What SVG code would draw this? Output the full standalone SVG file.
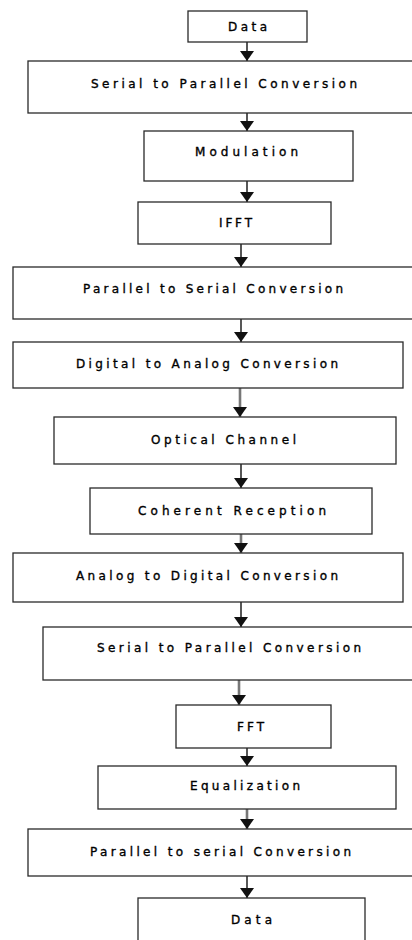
<svg xmlns="http://www.w3.org/2000/svg" width="412" height="940" viewBox="0 0 412 940">
<style>
.box{fill:#fff;stroke:#2a2a2a;stroke-width:1.3}
.lbl{font-family:"DejaVu Sans","Liberation Sans",sans-serif;font-size:12px;fill:#000;stroke:#000;stroke-width:0.35;text-anchor:middle}
.c{stroke:#111;stroke-width:1.4;fill:none;marker-end:url(#ah)}
.g{stroke:#777;stroke-width:2.6;fill:none;marker-end:url(#ah)}
</style>
<defs>
<marker id="ah" markerUnits="userSpaceOnUse" markerWidth="10" markerHeight="14" viewBox="0 0 10 14" refX="10" refY="7" orient="auto">
<path d="M0,0 L10,7 L0,14 z" fill="#111"/>
</marker>
</defs>
<rect width="412" height="940" fill="#fff"/>
<g id="connectors">
<line class="c" x1="247" y1="42" x2="247" y2="61"/>
<line class="c" x1="247" y1="113" x2="247" y2="131"/>
<line class="c" x1="247" y1="181" x2="247" y2="202"/>
<line class="c" x1="241" y1="244" x2="241" y2="267"/>
<line class="c" x1="241" y1="319" x2="241" y2="342"/>
<line class="g" x1="240" y1="388" x2="240" y2="417"/>
<line class="c" x1="241" y1="464" x2="241" y2="488"/>
<line class="g" x1="241" y1="534" x2="241" y2="553"/>
<line class="c" x1="241" y1="602" x2="241" y2="627"/>
<line class="g" x1="239" y1="680" x2="239" y2="705"/>
<line class="c" x1="247" y1="748" x2="247" y2="766"/>
<line class="g" x1="247" y1="809" x2="247" y2="829"/>
<line class="c" x1="247" y1="876" x2="247" y2="898"/>
</g>
<g id="data-in"><rect class="box" x="188" y="11" width="119" height="31"/><text class="lbl" x="247.5" y="30.5" textLength="39" lengthAdjust="spacing">Data</text></g>
<g id="s2p-1"><rect class="box" x="28" y="61" width="392" height="52"/><text class="lbl" x="224" y="87.5" textLength="266" lengthAdjust="spacing">Serial to Parallel Conversion</text></g>
<g id="modulation"><rect class="box" x="144" y="131" width="209" height="50"/><text class="lbl" x="246.5" y="155.5" textLength="103" lengthAdjust="spacing">Modulation</text></g>
<g id="ifft"><rect class="box" x="138" y="202" width="193" height="42"/><text class="lbl" x="235.5" y="226.5" textLength="33" lengthAdjust="spacing">IFFT</text></g>
<g id="p2s-1"><rect class="box" x="13" y="267" width="407" height="52"/><text class="lbl" x="213" y="292.5" textLength="260" lengthAdjust="spacing">Parallel to Serial Conversion</text></g>
<g id="dac"><rect class="box" x="13" y="342" width="390" height="46"/><text class="lbl" x="207" y="367.5" textLength="262" lengthAdjust="spacing">Digital to Analog Conversion</text></g>
<g id="optical"><rect class="box" x="54" y="417" width="342" height="47"/><text class="lbl" x="223.5" y="443.5" textLength="145" lengthAdjust="spacing">Optical Channel</text></g>
<g id="coherent"><rect class="box" x="90" y="488" width="282" height="46"/><text class="lbl" x="232" y="514.5" textLength="188" lengthAdjust="spacing">Coherent Reception</text></g>
<g id="adc"><rect class="box" x="13" y="553" width="390" height="49"/><text class="lbl" x="207" y="579.5" textLength="262" lengthAdjust="spacing">Analog to Digital Conversion</text></g>
<g id="s2p-2"><rect class="box" x="43" y="627" width="377" height="53"/><text class="lbl" x="229" y="651.5" textLength="264" lengthAdjust="spacing">Serial to Parallel Conversion</text></g>
<g id="fft"><rect class="box" x="176" y="705" width="155" height="43"/><text class="lbl" x="250.5" y="730.5" textLength="27" lengthAdjust="spacing">FFT</text></g>
<g id="equalization"><rect class="box" x="98" y="766" width="298" height="43"/><text class="lbl" x="245" y="789.5" textLength="110" lengthAdjust="spacing">Equalization</text></g>
<g id="p2s-2"><rect class="box" x="28" y="829" width="392" height="47"/><text class="lbl" x="220.5" y="855.5" textLength="261" lengthAdjust="spacing">Parallel to serial Conversion</text></g>
<g id="data-out"><rect class="box" x="138" y="898" width="227" height="52"/><text class="lbl" x="251.5" y="923.5" textLength="41" lengthAdjust="spacing">Data</text></g>
</svg>
